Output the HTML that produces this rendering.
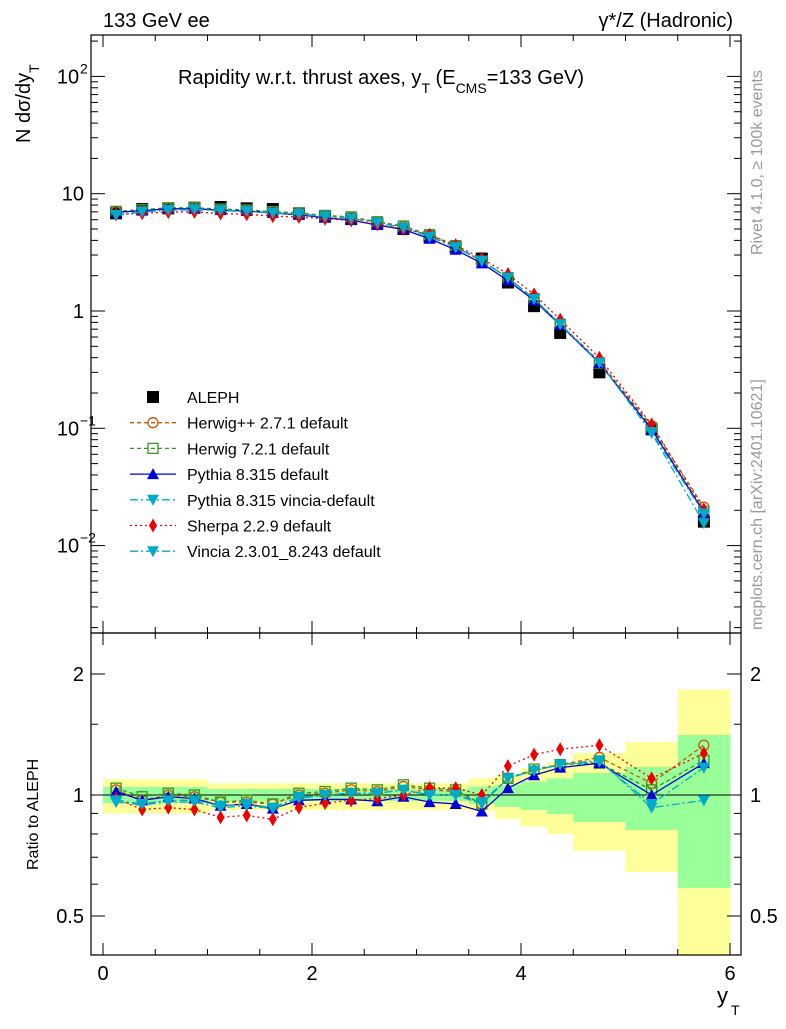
<!DOCTYPE html>
<html><head><meta charset="utf-8"><style>
body{margin:0;background:#fff;}
svg text{font-family:"Liberation Sans",sans-serif;}
</style></head><body>
<svg id="c" width="786" height="1024" xmlns="http://www.w3.org/2000/svg"></svg>
<script>
const binLo=[0,0.25,0.5,0.75,1,1.25,1.5,1.75,2,2.25,2.5,2.75,3,3.25,3.5,3.75,4,4.25,4.5,5,5.5];
const binHi=[0.25,0.5,0.75,1,1.25,1.5,1.75,2,2.25,2.5,2.75,3,3.25,3.5,3.75,4,4.25,4.5,5,5.5,6];
const aleph=[6.8,7.4,7.5,7.6,7.7,7.5,7.4,6.8,6.4,6.1,5.6,5.0,4.3,3.5,2.8,1.75,1.1,0.65,0.30,0.098,0.016];
const yellowLo=[0.90,0.90,0.90,0.90,0.917,0.917,0.917,0.917,0.917,0.917,0.917,0.917,0.917,0.917,0.912,0.871,0.833,0.80,0.726,0.643,0.3];
const yellowHi=[1.095,1.095,1.095,1.095,1.07,1.07,1.07,1.07,1.07,1.07,1.07,1.07,1.07,1.07,1.10,1.121,1.167,1.208,1.272,1.355,1.83];
const greenLo=[0.955,0.955,0.955,0.955,0.966,0.966,0.966,0.966,0.966,0.966,0.966,0.966,0.966,0.966,0.95,0.934,0.918,0.897,0.857,0.818,0.587];
const greenHi=[1.047,1.047,1.047,1.047,1.035,1.035,1.035,1.035,1.035,1.035,1.035,1.035,1.035,1.035,1.05,1.06,1.08,1.10,1.134,1.174,1.41];
const rHerwigpp=[1.03,0.97,1.0,0.99,0.96,0.96,0.95,1.0,1.01,1.03,1.02,1.05,1.03,1.02,0.95,1.10,1.15,1.19,1.24,1.07,1.33];
const rHerwig7=[1.04,0.99,1.01,1.0,0.96,0.97,0.95,1.01,1.02,1.04,1.03,1.06,1.04,1.03,0.95,1.10,1.16,1.19,1.20,1.03,1.22];
const rPythia=[1.02,0.97,0.99,0.98,0.94,0.95,0.925,0.97,0.975,0.975,0.965,0.99,0.96,0.95,0.91,1.04,1.12,1.17,1.20,1.0,1.20];
const rPyVincia=[0.96,0.945,0.96,0.96,0.93,0.94,0.925,0.98,1.0,1.01,1.01,1.03,1.0,1.0,0.95,1.10,1.15,1.19,1.22,0.93,0.97];
const rSherpa=[0.98,0.92,0.93,0.92,0.88,0.89,0.87,0.93,0.955,0.97,0.98,1.0,1.04,1.04,1.0,1.18,1.26,1.30,1.33,1.10,1.27];
const rVincia=[0.97,0.95,0.97,0.97,0.94,0.95,0.93,0.99,1.0,1.01,1.01,1.03,1.0,1.0,0.96,1.10,1.15,1.19,1.21,0.95,1.17];
const xTicks=[0,2,4,6];
const legendLabels=["ALEPH","Herwig++ 2.7.1 default","Herwig 7.2.1 default","Pythia 8.315 default","Pythia 8.315 vincia-default","Sherpa 2.2.9 default","Vincia 2.3.01_8.243 default"];

const svg=document.getElementById('c');const NS='http://www.w3.org/2000/svg';
function mk(t,a,p){const e=document.createElementNS(NS,t);for(const k in a)e.setAttribute(k,a[k]);(p||svg).appendChild(e);return e;}
const L=91,R=741,T=35,M=633,B=955;
const X=v=>103+v*104.5;
const Y=v=>311-117.3*Math.log10(v);
const YR=v=>795-121*Math.log2(v);
const mid=i=>(binLo[i]+binHi[i])/2;

for(let i=0;i<binLo.length;i++){
 const yt=Math.max(M,YR(yellowHi[i])),yb=Math.min(B,YR(yellowLo[i]));
 let r=mk('rect',{x:X(binLo[i]),y:yt,width:X(binHi[i])-X(binLo[i])+0.5,height:yb-yt,fill:'#ffff99'});
 
 let g=mk('rect',{x:X(binLo[i]),y:YR(greenHi[i]),width:X(binHi[i])-X(binLo[i])+0.5,height:YR(greenLo[i])-YR(greenHi[i]),fill:'#99ff99'});
 
}
mk('line',{x1:L,x2:R,y1:YR(1),y2:YR(1),stroke:'#000','stroke-width':1});

for(const [y1,y2] of [[T,M],[M,B]]){const f=mk('rect',{x:L,y:y1,width:R-L,height:y2-y1,fill:'none',stroke:'#000','stroke-width':1.2});}

for(let v=0;v<=6.01;v+=0.5){const maj=Math.abs(v-Math.round(v/2)*2)<0.01;const l=maj?12:6;
 for(const [y1,d] of [[M,-1],[B,-1],[T,1],[M,1]]){mk('line',{x1:X(v),x2:X(v),y1:y1,y2:y1+d*l,stroke:'#000'});}}
xTicks.forEach(v=>{const t=mk('text',{x:X(v),y:980,'text-anchor':'middle','font-size':20});t.textContent=v;});
for(let d=-3;d<=2;d++)for(let m=1;m<10;m++){const v=m*Math.pow(10,d);const y=Y(v);if(y<T||y>M)continue;const l=m==1?14:7;
 mk('line',{x1:L,x2:L+l,y1:y,y2:y,stroke:'#000'});mk('line',{x1:R,x2:R-l,y1:y,y2:y,stroke:'#000'});}
[[100,'10','2'],[10,'10',''],[1,'1',''],[0.1,'10','−1'],[0.01,'10','−2']].forEach(([v,b,e])=>{const t=mk('text',{x:e?68:84,y:Y(v)+7,'text-anchor':e?'middle':'end','font-size':20});t.textContent=b;
 if(e){const s=mk('text',{x:80,y:Y(v)-3,'font-size':14});s.textContent=e;}});
[0.4,0.5,0.6,0.7,0.8,0.9,1,1.5,2].forEach(v=>{const y=YR(v);if(y<M||y>B)return;const maj=(v==0.5||v==1||v==2);const l=maj?14:7;
 mk('line',{x1:L,x2:L+l,y1:y,y2:y,stroke:'#000'});mk('line',{x1:R,x2:R-l,y1:y,y2:y,stroke:'#000'});});
[[0.5,'0.5'],[1,'1'],[2,'2']].forEach(([v,s])=>{for(const [x,a] of [[84,'end'],[750,'start']]){const t=mk('text',{x:x,y:YR(v)+7,'text-anchor':a,'font-size':20});t.textContent=s;}});

const series=[
 {r:rHerwigpp,c:'#cc5500',d:'4,3',m:'circle',n:'herwigpp'},
 {r:rHerwig7,c:'#339922',d:'4,3',m:'square-open',n:'herwig7'},
 {r:rPythia,c:'#0000dd',d:'',m:'tri-up',n:'pythia'},
 {r:rPyVincia,c:'#00aacc',d:'8,3,2,3',m:'tri-down',n:'pythia-vincia'},
 {r:rSherpa,c:'#ee0000',d:'2,3',m:'diamond',n:'sherpa'},
 {r:rVincia,c:'#00aacc',d:'8,3,2,3',m:'tri-down',n:'vincia'}];
function marker(type,x,y,c,p){let e;
 if(type=='circle')e=mk('circle',{cx:x,cy:y,r:5,fill:'none',stroke:c,'stroke-width':1.3},p);
 else if(type=='square-open')e=mk('rect',{x:x-5,y:y-5,width:10,height:10,fill:'none',stroke:c,'stroke-width':1.3},p);
 else if(type=='square')e=mk('rect',{x:x-6,y:y-6,width:12,height:12,fill:c},p);
 else if(type=='tri-up')e=mk('polygon',{points:`${x},${y-6} ${x-6},${y+5} ${x+6},${y+5}`,fill:c},p);
 else if(type=='tri-down')e=mk('polygon',{points:`${x},${y+6} ${x-6},${y-5} ${x+6},${y-5}`,fill:c},p);
 else e=mk('polygon',{points:`${x},${y-7} ${x-4},${y} ${x},${y+7} ${x+4},${y}`,fill:c},p);
 return e;}
aleph.forEach((v,i)=>{const e=marker('square',X(mid(i)),Y(v),'#000');});
series.forEach(s=>{
 const g=mk('g',{});
 mk('polyline',{points:s.r.map((r,i)=>X(mid(i))+','+Y(r*aleph[i])).join(' '),fill:'none',stroke:s.c,'stroke-width':1.3,'stroke-dasharray':s.d},g);
 mk('polyline',{points:s.r.map((r,i)=>X(mid(i))+','+YR(r)).join(' '),fill:'none',stroke:s.c,'stroke-width':1.3,'stroke-dasharray':s.d},g);
 s.r.forEach((r,i)=>{marker(s.m,X(mid(i)),Y(r*aleph[i]),s.c,g);marker(s.m,X(mid(i)),YR(r),s.c,g);});
});
const lg=mk('g',{});
legendLabels.forEach((lab,i)=>{const y=397+i*25.7;
 if(i==0)marker('square',153,y,'#000',lg);else{const s=series[i-1];mk('line',{x1:130,x2:176,y1:y,y2:y,stroke:s.c,'stroke-width':1.3,'stroke-dasharray':s.d},lg);marker(s.m,153,y,s.c,lg);}
 const t=mk('text',{x:187,y:y+6,'font-size':16},lg);t.textContent=lab;});
function txt(s,a,name){const t=mk('text',a);t.textContent=s;return t;}
txt('133 GeV ee',{x:103,y:27,'font-size':20},'header-left');
txt('γ*/Z (Hadronic)',{x:733,y:27,'font-size':20,'text-anchor':'end'},'header-right');
const tt=mk('text',{x:178,y:84,'font-size':20});
tt.innerHTML='Rapidity w.r.t. thrust axes, y<tspan font-size="14" dy="9">T</tspan><tspan dy="-9"> (E</tspan><tspan font-size="14" dy="9">CMS</tspan><tspan dy="-9">=133 GeV)</tspan>';
const yt=mk('text',{'font-size':20,transform:'translate(30,143) rotate(-90)'});
yt.innerHTML='N  dσ/dy<tspan font-size="14" dy="9">T</tspan>';
txt('Ratio to ALEPH',{x:0,y:0,'font-size':16,transform:'translate(38,870) rotate(-90)'},'ratio-axis-title');
txt('y',{x:717,y:1003,'font-size':22},'x-axis-title');
txt('T',{x:731,y:1015,'font-size':14},'x-axis-sub');
txt('Rivet 4.1.0, ≥ 100k events',{x:0,y:0,'font-size':16,fill:'#999',transform:'translate(762,255) rotate(-90)'},'rivet-label');
txt('mcplots.cern.ch [arXiv:2401.10621]',{x:0,y:0,'font-size':16,fill:'#999',transform:'translate(762,630) rotate(-90)'},'mcplots-label');
</script>
</body></html>
